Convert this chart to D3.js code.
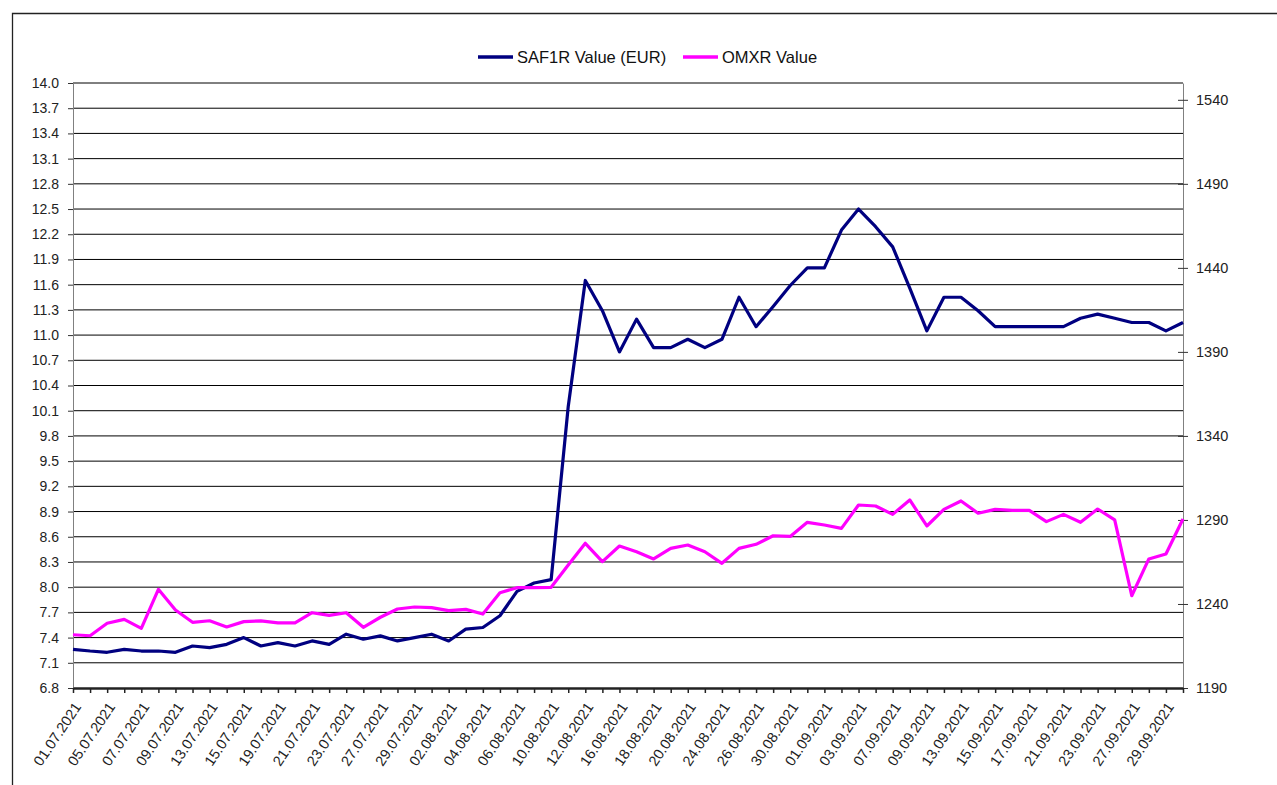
<!DOCTYPE html>
<html>
<head>
<meta charset="utf-8">
<script src="https://cdn.jsdelivr.net/npm/d3@7"></script>
<style>
  body { margin: 0; background: #fff; }
  svg { font-family: "Liberation Sans", Arial, sans-serif; }
</style>
</head>
<body>
<div id="chart"></div>
<script>
// trading days, one point each
const dates = ["01.07.2021","02.07.2021","05.07.2021","06.07.2021","07.07.2021","08.07.2021","09.07.2021","12.07.2021","13.07.2021","14.07.2021","15.07.2021","16.07.2021","19.07.2021","20.07.2021","21.07.2021","22.07.2021","23.07.2021","26.07.2021","27.07.2021","28.07.2021","29.07.2021","30.07.2021",
  "02.08.2021","03.08.2021","04.08.2021","05.08.2021","06.08.2021","09.08.2021","10.08.2021","11.08.2021","12.08.2021","13.08.2021","16.08.2021","17.08.2021","18.08.2021","19.08.2021","20.08.2021","23.08.2021","24.08.2021","25.08.2021","26.08.2021","27.08.2021","30.08.2021","31.08.2021",
  "01.09.2021","02.09.2021","03.09.2021","06.09.2021","07.09.2021","08.09.2021","09.09.2021","10.09.2021","13.09.2021","14.09.2021","15.09.2021","16.09.2021","17.09.2021","20.09.2021","21.09.2021","22.09.2021","23.09.2021","24.09.2021","27.09.2021","28.09.2021","29.09.2021","30.09.2021"];

// left axis (EUR)
const saf1rValues = [7.26,7.24,7.225,7.26,7.24,7.24,7.225,7.30,7.28,7.32,
  7.40,7.30,7.34,7.30,7.36,7.32,7.44,7.38,7.42,7.36,
  7.40,7.44,7.36,7.50,7.52,7.66,7.95,8.05,8.09,10.15,
  11.65,11.29,10.80,11.19,10.85,10.85,10.95,10.85,10.95,11.45,
  11.10,11.34,11.59,11.80,11.80,12.25,12.50,12.29,12.05,11.56,
  11.05,11.45,11.45,11.29,11.10,11.10,11.10,11.10,11.10,11.20,
  11.25,11.20,11.15,11.15,11.05,11.15];

// right axis (index)
const omxrValues = [1221.7,1221.1,1228.5,1230.8,1225.5,1248.7,1236.4,1229.1,1230.0,1226.3,
  1229.5,1229.9,1228.7,1228.7,1234.8,1233.2,1234.8,1226.1,1232.1,1237.0,
  1238.2,1237.8,1236.0,1236.8,1234.0,1246.7,1249.7,1249.7,1249.9,1263.2,
  1276.1,1265.2,1274.5,1271.1,1266.8,1273.1,1275.1,1271.1,1264.2,1273.1,
  1275.5,1280.6,1280.2,1288.6,1287.0,1285.0,1298.9,1298.3,1293.3,1301.9,
  1286.4,1296.3,1301.3,1294.0,1296.3,1295.7,1295.7,1289.0,1293.3,1288.6,
  1296.5,1290.0,1244.9,1266.8,1269.7,1290.6];

const leftTicks = [6.8,7.1,7.4,7.7,8.0,8.3,8.6,8.9,9.2,9.5,9.8,10.1,10.4,10.7,11.0,11.3,11.6,11.9,12.2,12.5,12.8,13.1,13.4,13.7,14.0];
const rightTicks = [1190,1240,1290,1340,1390,1440,1490,1540];
const seriesNames = ["SAF1R Value (EUR)", "OMXR Value"];

const colors = ["#000080", "#ff00ff"];

const W = 1277, H = 785;
const plot = {left: 73, right: 1183, top: 83, bottom: 688};

const svg = d3.select("#chart").append("svg")
  .attr("width", W).attr("height", H);

// outer frame (only top and left edges are inside the picture)
svg.append("path")
  .attr("d", `M12.5,${H} V13.5 H${W}`)
  .attr("fill", "none").attr("stroke", "#222").attr("stroke-width", 1.3);

const x = d3.scalePoint().domain(dates).range([plot.left, plot.right]);
const yL = d3.scaleLinear().domain([6.8, 14.0]).range([plot.bottom, plot.top]);
const yR = d3.scaleLinear().domain([1190, 1550]).range([plot.bottom, plot.top]);

// gridlines
svg.append("g").selectAll("line")
  .data(leftTicks.slice(1))
  .join("line")
  .attr("x1", plot.left).attr("x2", plot.right)
  .attr("y1", d => yL(d)).attr("y2", d => yL(d))
  .attr("stroke", "#000").attr("stroke-width", 1);

// left axis
const gL = svg.append("g")
  .attr("transform", `translate(${plot.left},0)`)
  .call(d3.axisLeft(yL).tickValues(leftTicks).tickFormat(d3.format(".1f"))
    .tickSize(5).tickSizeOuter(0).tickPadding(9));
gL.select(".domain").attr("stroke", "#808080");
gL.selectAll(".tick line").attr("stroke", "#333");
gL.selectAll("text").attr("font-size", 14).attr("fill", "#222");

// right axis
const gR = svg.append("g")
  .attr("transform", `translate(${plot.right},0)`)
  .call(d3.axisRight(yR).tickValues(rightTicks).tickFormat(d3.format("d"))
    .tickSize(5).tickSizeOuter(0).tickPadding(8));
gR.select(".domain").attr("stroke", "#808080");
gR.selectAll(".tick line").attr("x1", -5).attr("stroke", "#333");
gR.selectAll("text").attr("font-size", 14.5).attr("fill", "#222");

// bottom axis
const gB = svg.append("g")
  .attr("transform", `translate(0,${plot.bottom})`)
  .call(d3.axisBottom(x).tickSize(5).tickSizeOuter(0)
    .tickFormat((d, i) => i % 2 ? "" : d));
gB.select(".domain").attr("stroke", "#222").attr("stroke-width", 2.5);
gB.selectAll(".tick line").attr("stroke", "#222").attr("stroke-width", 1.5);
gB.selectAll("text")
  .attr("font-size", 14.5).attr("fill", "#222")
  .attr("text-anchor", "end")
  .attr("y", 0).attr("dy", "0.35em")
  .attr("transform", "translate(4,16) rotate(-56)");

// series
const series = [saf1rValues, omxrValues];
const scales = [yL, yR];
const line = (ys) => d3.line().x((d, i) => x(dates[i])).y(d => ys(d));

series.forEach((vals, k) => {
  svg.append("path")
    .datum(vals)
    .attr("fill", "none")
    .attr("stroke", colors[k])
    .attr("stroke-width", 3.2)
    .attr("stroke-linejoin", "round")
    .attr("d", line(scales[k]));
});

// legend
const legend = svg.append("g").attr("transform", "translate(478,57)");
const legendX = [0, 205];
seriesNames.forEach((name, k) => {
  const g = legend.append("g").attr("transform", `translate(${legendX[k]},0)`);
  g.append("line").attr("x1", 0).attr("x2", 35)
    .attr("stroke", colors[k]).attr("stroke-width", 3.5);
  g.append("text").attr("x", 39).attr("dy", "0.35em")
    .attr("font-size", 16.5).attr("fill", "#111").text(name);
});
</script>
</body>
</html>
